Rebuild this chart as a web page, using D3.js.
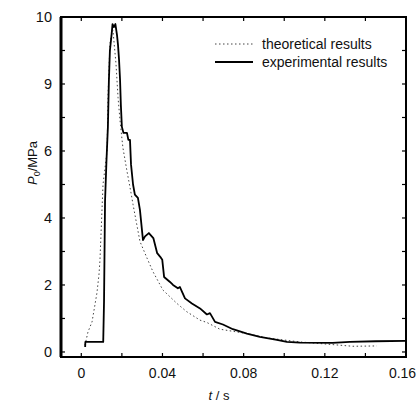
<!DOCTYPE html>
<html><head><meta charset="utf-8">
<script src="https://cdn.jsdelivr.net/npm/d3@7"></script>
<style>body{margin:0;background:#fff}svg{display:block}text{font-family:"Liberation Sans",Arial,sans-serif;fill:#111}</style>
</head><body><svg id="c" width="417" height="405"></svg>
<script>
// Data
const expT = [0.0019,0.0020,0.0108,0.0112,0.0117,0.0124,0.0131,0.0136,0.0141,0.0149,0.0154,0.0161,0.0168,0.0176,0.0181,0.0186,0.0191,0.0195,0.0200,0.0208,0.0225,0.0232,0.0240,0.0245,0.0255,0.0264,0.0279,0.0289,0.0299,0.0304,0.0314,0.0333,0.0355,0.0374,0.0389,0.0399,0.0408,0.0437,0.0452,0.0476,0.0486,0.0496,0.0511,0.0545,0.0585,0.0619,0.0634,0.0659,0.0698,0.0747,0.0816,0.0880,0.0964,0.1013,0.1077,0.1239,0.1323,0.1450,0.1599];
const expV = [0.15,0.30,0.30,1.5,4.5,5.7,6.7,8.1,9.0,9.46,9.79,9.70,9.79,9.46,9.16,8.72,8.12,7.37,6.72,6.54,6.54,6.33,6.33,5.6,5.0,4.7,4.6,4.24,3.64,3.34,3.45,3.55,3.4,2.95,2.84,2.75,2.24,2.09,2.0,1.9,1.94,1.8,1.6,1.45,1.3,1.12,1.16,0.9,0.82,0.68,0.55,0.45,0.36,0.30,0.28,0.27,0.30,0.32,0.33];
const theoT = [0.0018,0.0033,0.0053,0.0067,0.0077,0.0087,0.0092,0.0107,0.0127,0.0132,0.0141,0.0151,0.0156,0.0171,0.0181,0.0191,0.0205,0.0225,0.0245,0.0255,0.0289,0.0324,0.0353,0.0402,0.0471,0.0520,0.0585,0.0619,0.0683,0.0816,0.0914,0.1077,0.1239,0.1338,0.1456];
const theoV = [0.2,0.6,0.9,1.4,1.76,2.3,2.74,5.0,6.0,7.7,9.2,9.55,9.6,8.6,7.6,6.9,6.1,5.4,4.75,4.4,3.3,2.8,2.4,1.85,1.45,1.2,0.95,0.88,0.68,0.55,0.42,0.3,0.22,0.17,0.18];
const xTicks = [0,0.04,0.08,0.12,0.16];
const xMinor = [0.02,0.06,0.10,0.14];
const yTicks = [0,2,4,6,8,10];
const yTickLabels = ["0","2","4","6","9","10"];
const yMinor = [1,3,5,7,9];
const legendLabels = ["theoretical results","experimental results"];

const svg = d3.select("#c");
const L=61,R=406,T=17,B=357;
const x = d3.scaleLinear().domain([-0.01,0.16]).range([L,R]);
const y = d3.scaleLinear().domain([-0.15,10]).range([B,T]);

const tk=4;
const xt = xTicks.concat(xMinor), yt = yTicks.concat(yMinor);
const g = svg.append("g").attr("stroke","#000").attr("stroke-width",1.2);
xt.forEach(v=>{g.append("line").attr("x1",x(v)).attr("x2",x(v)).attr("y1",B).attr("y2",B-tk);
  g.append("line").attr("x1",x(v)).attr("x2",x(v)).attr("y1",T).attr("y2",T+tk);});
yt.forEach(v=>{g.append("line").attr("x1",L).attr("x2",L+tk).attr("y1",y(v)).attr("y2",y(v));
  g.append("line").attr("x1",R).attr("x2",R-tk).attr("y1",y(v)).attr("y2",y(v));});

// tick labels
svg.append("g").selectAll("text").data(xTicks).join("text")
  .attr("x",d=>Math.min(x(d),402.5)).attr("y",378).attr("text-anchor","middle").attr("font-size",14)
  .text(d=>d===0?"0":d3.format(".2f")(d));
svg.append("g").selectAll("text").data(yTicks).join("text")
  .attr("x",52).attr("y",d=>y(d)+5).attr("text-anchor","end").attr("font-size",14.5)
  .text((d,i)=>yTickLabels[i]);

// lines
const line = d3.line().x(d=>x(d[0])).y(d=>y(d[1]));
svg.append("path").datum(theoT.map((t,i)=>[t,theoV[i]])).attr("d",line)
  .attr("fill","none").attr("stroke","#444").attr("stroke-width",1).attr("stroke-dasharray","1.5,2.5");
svg.append("path").datum(expT.map((t,i)=>[t,expV[i]])).attr("d",line)
  .attr("fill","none").attr("stroke","#000").attr("stroke-width",1.8).attr("stroke-linejoin","round");

// frame
svg.append("rect").attr("x",L).attr("y",T).attr("width",R-L).attr("height",B-T)
  .attr("fill","none").attr("stroke","#000").attr("stroke-width",2);
svg.append("line").attr("x1",L).attr("x2",L).attr("y1",T).attr("y2",B).attr("stroke","#000").attr("stroke-width",3);

// legend
const lg = svg.append("g");
lg.append("line").attr("x1",215).attr("x2",253).attr("y1",44).attr("y2",44)
  .attr("stroke","#444").attr("stroke-width",1).attr("stroke-dasharray","1.5,2.5");
lg.append("line").attr("x1",215).attr("x2",253).attr("y1",62).attr("y2",62)
  .attr("stroke","#000").attr("stroke-width",1.8);
lg.selectAll("text").data(legendLabels).join("text")
  .attr("x",262).attr("y",(d,i)=>49+i*18).attr("font-size",14).text(d=>d);

// axis titles
svg.append("text").attr("transform","translate(37,163) rotate(-90)").attr("text-anchor","middle")
  .attr("font-size",13).html('<tspan font-style="italic">P</tspan><tspan font-size="9" dy="3">0</tspan><tspan dy="-3">/MPa</tspan>');
svg.append("text").attr("x",219).attr("y",400).attr("text-anchor","middle").attr("font-size",13)
  .html('<tspan font-style="italic">t</tspan> / s');
</script></body></html>
